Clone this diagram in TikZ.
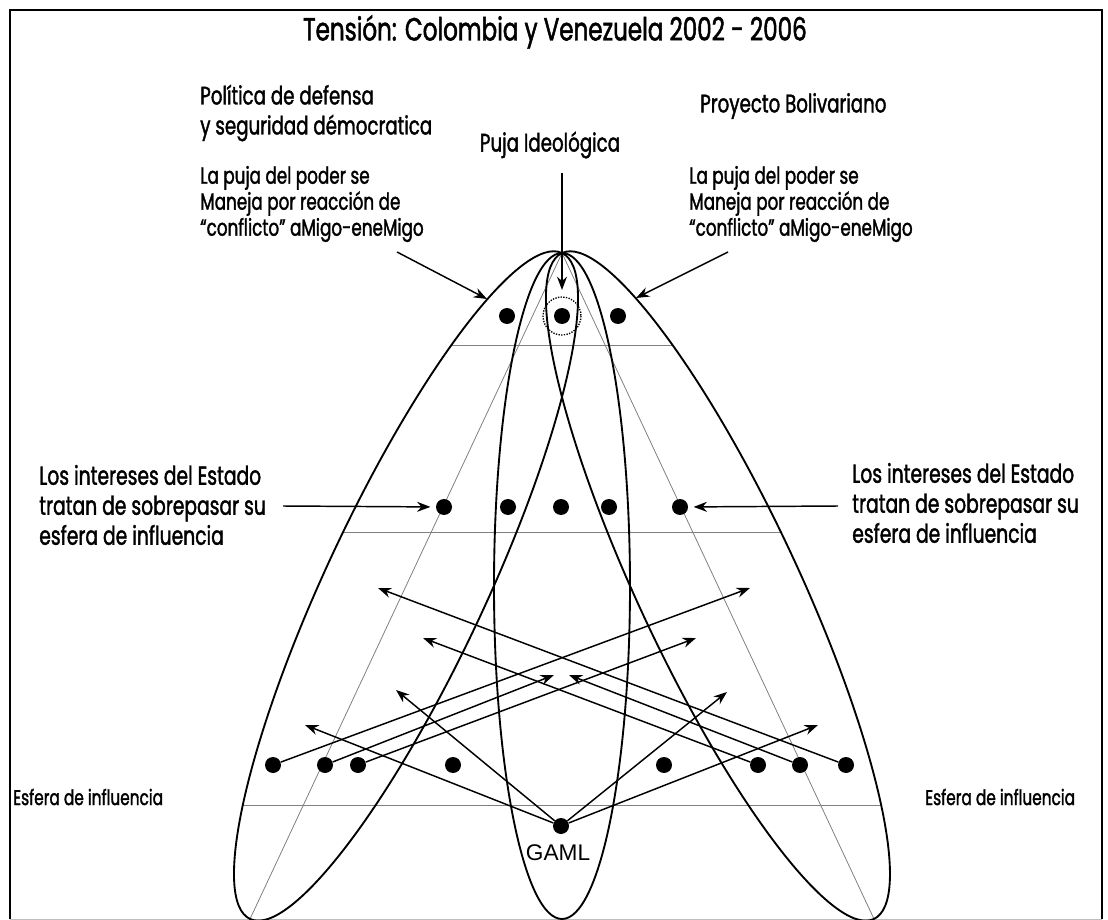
\documentclass[tikz,border=0pt]{standalone}
\usepackage{fontspec}
\setmainfont{Poppins}[FakeStretch=0.72,FakeBold=1.5]
\newfontfamily\gamlfont{Liberation Sans}
\usetikzlibrary{arrows.meta}

\begin{document}
\begin{tikzpicture}[x=0.75pt,y=-0.75pt,>={Stealth[length=10pt,width=7.5pt]},
    txt/.style={align=left,inner sep=0pt,font=\fontsize{16}{20}\selectfont},
    midtxt/.style={align=left,inner sep=0pt,font=\fontsize{19}{22.5}\selectfont},
    bigtxt/.style={align=left,inner sep=0pt,font=\fontsize{19.5}{22.5}\selectfont},
    dot/.style={circle,fill,inner sep=0pt,minimum size=12pt},
    arr/.style={->,line width=1.1pt},
    guide/.style={gray,line width=0.6pt},
    lobe/.style={line width=1.4pt}]
  \useasboundingbox (0,0) rectangle (1108,920);
  % frame
  \draw[line width=2pt] (10,919) -- (10,10) -- (1102,10) -- (1102,919);
  \draw[gray!50,line width=0.5pt] (10,919) -- (1102,919);
  % the three lobes
  \coordinate (apex) at (562,253);
  \coordinate (lfoot) at (250,919);
  \coordinate (rfoot) at (874,919);
  \coordinate (lc) at (406,586);
  \coordinate (rc) at (718,586);
  \coordinate (mc) at (562,586);
  \draw[guide] (apex) -- (lfoot);
  \draw[guide] (apex) -- (rfoot);
  \draw[guide] (451,345) -- (673,345);
  \draw[guide] (343,532) -- (781,532);
  \draw[guide] (243,805) -- (881,805);
  \draw[lobe,rotate around={-25.1:(lc)}] (lc) ellipse[x radius=80,y radius=367.7];
  \draw[lobe,rotate around={25.1:(rc)}] (rc) ellipse[x radius=80,y radius=367.7];
  \draw[lobe] (mc) ellipse[x radius=68,y radius=333];
  % texts
  \node[font=\fontsize{24}{28}\selectfont,inner sep=0pt] (title) at (555,32) {Tensión: Colombia y Venezuela 2002 - 2006};
  \node[midtxt,anchor=west] (pol) at (200,113) {Política de defensa\\y seguridad démocratica};
  \node[midtxt,anchor=west] (bol) at (700,106) {Proyecto Bolivariano};
  \node[midtxt] (puja) at (550,145) {Puja Ideológica};
  \node[txt,anchor=west,font=\fontsize{17.5}{19.5}\selectfont] (reacl) at (200,204) {La puja del poder se\\Maneja por reacción de\\“conflicto” aMigo-eneMigo};
  \node[txt,anchor=west,font=\fontsize{17.5}{19.5}\selectfont] (reacr) at (689,204) {La puja del poder se\\Maneja por reacción de\\“conflicto” aMigo-eneMigo};
  \node[bigtxt,anchor=west] (intl) at (39,505) {Los intereses del Estado\\tratan de sobrepasar su\\esfera de influencia};
  \node[bigtxt,anchor=west] (intr) at (852,503) {Los intereses del Estado\\tratan de sobrepasar su\\esfera de influencia};
  \node[txt,anchor=west] (esfl) at (13,797) {Esfera de influencia};
  \node[txt,anchor=west] (esfr) at (925,797) {Esfera de influencia};
  % dots
  \node[dot] (t1) at (507,316) {};
  \node[dot] (t2) at (562,316) {};
  \node[dot] (t3) at (618,316) {};
  \draw[densely dotted,line width=1pt] (t2) circle[radius=19];
  \node[dot] (m1) at (444,507) {};
  \node[dot] (m2) at (508,507) {};
  \node[dot] (m3) at (561,507) {};
  \node[dot] (m4) at (609,507) {};
  \node[dot] (m5) at (680,507) {};
  \node[dot] (b1) at (273,765) {};
  \node[dot] (b2) at (325,765) {};
  \node[dot] (b3) at (358,765) {};
  \node[dot] (b4) at (453,765) {};
  \node[dot] (b5) at (664,765) {};
  \node[dot] (b6) at (758,765) {};
  \node[dot] (b7) at (800,765) {};
  \node[dot] (b8) at (846,765) {};
  \node[dot] (gaml) at (561,826) {};
  \node[font=\gamlfont\fontsize{17}{20}\selectfont,inner sep=0pt] (gamltxt) at (558,853) {GAML};
  % arrows from the texts
  \coordinate (vtail) at (562,173);
  \coordinate (vhead) at (562,290);
  \coordinate (ltail) at (397,252);
  \coordinate (lhead) at (487,299);
  \coordinate (rtail) at (728,252);
  \coordinate (rhead) at (636,298);
  \coordinate (mltail) at (283,506);
  \coordinate (mrtail) at (838,506);
  \draw[arr] (vtail) -- (vhead);
  \draw[arr] (ltail) -- (lhead);
  \draw[arr] (rtail) -- (rhead);
  \draw[arr,shorten >=4pt] (mltail) -- (m1);
  \draw[arr,shorten >=4pt] (mrtail) -- (m5);
  % crossing arrows
  \coordinate (h1) at (750,588);
  \coordinate (h2) at (554,675);
  \coordinate (h3) at (696,638);
  \coordinate (h6) at (423,638);
  \coordinate (h7) at (569,675);
  \coordinate (h8) at (378,588);
  \draw[arr] (b1) -- (h1);
  \draw[arr] (b2) -- (h2);
  \draw[arr] (b3) -- (h3);
  \draw[arr] (b6) -- (h6);
  \draw[arr] (b7) -- (h7);
  \draw[arr] (b8) -- (h8);
  \coordinate (g1) at (305,725);
  \coordinate (g2) at (396,690);
  \coordinate (g3) at (727,692);
  \coordinate (g4) at (818,725);
  \draw[arr] (gaml) -- (g1);
  \draw[arr] (gaml) -- (g2);
  \draw[arr] (gaml) -- (g3);
  \draw[arr] (gaml) -- (g4);
\end{tikzpicture}
\end{document}
